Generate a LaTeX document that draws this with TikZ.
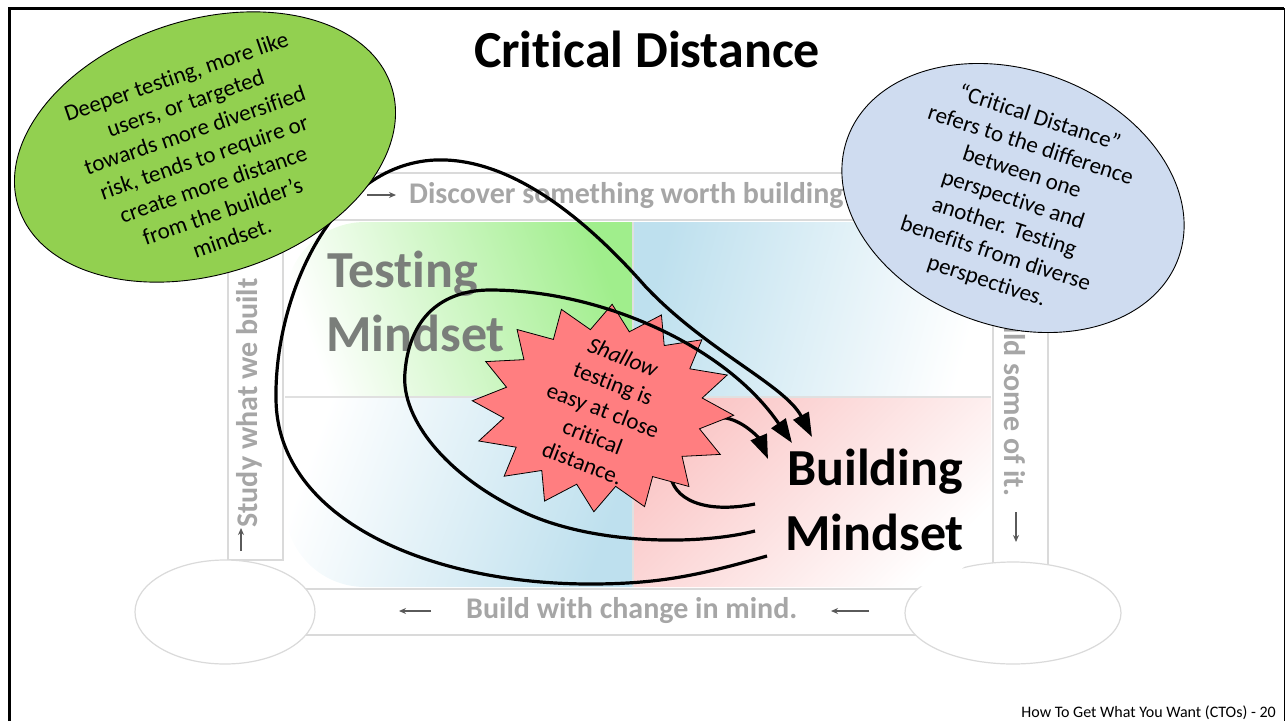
\documentclass[tikz,border=0pt]{standalone}
\usepackage{fontspec}
\setmainfont{Carlito}[Ligatures=NoCommon]
\usetikzlibrary{shapes.geometric,arrows.meta}
\definecolor{ovalgreen}{RGB}{146,208,80}
\definecolor{ovalblue}{RGB}{207,220,240}
\definecolor{burst}{RGB}{255,126,128}
\definecolor{bandline}{RGB}{218,218,218}
\definecolor{bandtext}{RGB}{166,166,166}
\definecolor{bandarrow}{RGB}{90,90,90}
\definecolor{qgreen}{RGB}{160,238,140}
\definecolor{qblue}{RGB}{190,224,238}
\definecolor{qpink}{RGB}{250,198,198}
\definecolor{mindgray}{RGB}{122,126,122}
\begin{document}
\begin{tikzpicture}[x=1pt,y=-1pt,
  band/.style={draw=bandline, fill=white, line width=1.5pt},
  bandlabel/.style={text=bandtext, font=\fontsize{30}{36}\selectfont\bfseries, inner sep=0pt},
  bandarr/.style={draw=bandarrow, line width=1.3pt, -{Stealth[length=7pt,width=6pt]}},
  cornerdisk/.style={draw=bandline, fill=white, line width=1.2pt},
  curvy/.style={draw=black, line width=3.2pt},
  curvyarrow/.style={curvy, -{Triangle[length=24pt,width=17pt]}},
  mindset/.style={font=\fontsize{52}{62}\selectfont\bfseries, inner sep=0pt, anchor=base west},
  oval/.style={ellipse, draw=black, line width=0.9pt, inner sep=0pt},
  note/.style={align=center, font=\fontsize{23}{28.5}\selectfont, inner sep=0pt},
]
\useasboundingbox (0,0) rectangle (1286,721);

% slide frame
\draw[line width=3pt] (9,721) -- (9,8) -- (1284,8);
\draw[line width=1pt] (1284,8) -- (1284,721);

% cycle bands
\draw[band] (283,173) rectangle (1000,220);
\draw[band] (228,200) rectangle (283,560);
\draw[band] (993,200) rectangle (1048,565);
\draw[band] (300,589) rectangle (1000,635);
\node[cornerdisk, ellipse, minimum width=180pt, minimum height=104pt] (diskL) at (225,612) {};
\node[cornerdisk, ellipse, minimum width=216pt, minimum height=102pt] (diskR) at (1013,613) {};

% four mindset quadrants
\begin{scope}
  \clip[rounded corners=80pt] (285,222) rectangle (991,587);
  \shade[left color=white, right color=qgreen, shading angle=110] (285,222) rectangle (633,397);
  \shade[left color=qblue, right color=white, shading angle=75] (633,222) rectangle (991,397);
  \shade[left color=white, right color=qblue, shading angle=70] (285,397) rectangle (633,587);
  \shade[top color=qpink, bottom color=white, shading angle=45] (633,397) rectangle (991,587);
\end{scope}
\draw[white!88!black, line width=1.2pt] (633,222) -- (633,587) (285,397) -- (991,397);

% band labels and their arrows
\node[bandlabel, anchor=west] (discover) at (409,196) {Discover something worth building};
\node[bandlabel, anchor=west] (buildwith) at (466,611) {Build with change in mind.};
\node[bandlabel, anchor=west, rotate=90] (study) at (249,528) {Study what we built};
\node[bandlabel, anchor=west, rotate=-90] (buildsome) at (1015,293) {Build some of it.};
\coordinate (a1s) at (367,195); \coordinate (a1e) at (396,195);
\coordinate (a2s) at (431,611); \coordinate (a2e) at (399,611);
\coordinate (a3s) at (869,611); \coordinate (a3e) at (831,611);
\coordinate (a4s) at (241,551); \coordinate (a4e) at (241,528);
\coordinate (a5s) at (1016,512); \coordinate (a5e) at (1016,542);
\draw[bandarr] (a1s) -- (a1e);
\draw[bandarr] (a2s) -- (a2e);
\draw[bandarr] (a3s) -- (a3e);
\draw[bandarr] (a4s) -- (a4e);
\draw[bandarr] (a5s) -- (a5e);

% testing mindset label
\node[mindset, text=mindgray] (testing) at (327,287) {Testing};
\node[mindset, text=mindgray] (testmind) at (326,351) {Mindset};

% short loop, passing under the burst
\coordinate (inS) at (755,504);
\coordinate (inE) at (768,459);
\draw[curvyarrow] (inS) .. controls (705,514) and (672,500) .. (670,472)
  .. controls (662,432) and (695,416) .. (726,418)
  .. controls (746,422) and (760,440) .. (inE);

% burst
\begin{scope}[shift={(603,408)}]
  \draw[fill=burst, draw=black, line width=0.8pt] (-4:131pt and 104pt)
    \foreach \a in {0,22.5,...,337.5} { -- ({\a+7.25}:100pt and 79pt) -- ({\a+18.5}:131pt and 104pt) } -- cycle;
\end{scope}
\node[note, rotate=-21] (shallow) at (603,410) {\textit{Shallow}\\testing is\\easy at close\\critical\\distance.};

% middle loop
\coordinate (midS) at (755,531);
\coordinate (midE) at (792,443);
\draw[curvyarrow] (midS) .. controls (700,545) and (600,545) .. (530,515)
  .. controls (450,480) and (400,420) .. (405,372)
  .. controls (410,310) and (450,290) .. (490,290)
  .. controls (600,290) and (725,345) .. (midE);

% outer loop
\coordinate (outS) at (767,556);
\coordinate (outE) at (812,437);
\draw[curvyarrow] (outS) .. controls (700,575) and (660,584) .. (590,584)
  .. controls (430,584) and (278,520) .. (276,400)
  .. controls (274,300) and (330,165) .. (435,160)
  .. controls (510,157) and (585,218) .. (645,286)
  .. controls (705,350) and (785,385) .. (outE);

% building mindset label
\node[mindset] (building) at (787,485) {Building};
\node[mindset] (buildmind) at (785,550) {Mindset};

% call-out ovals
\node[oval, fill=ovalgreen, minimum width=392pt, minimum height=254pt, rotate=18] (greenoval) at (205,147) {};
\node[note, rotate=19] (deeper) at (204,157) {Deeper testing, more like\\users, or targeted\\towards more diversified\\risk, tends to require or\\create more distance\\from the builder’s\\mindset.};
\node[oval, fill=ovalblue, minimum width=352pt, minimum height=256pt, rotate=-20] (blueoval) at (1013,198) {};
\node[note, rotate=-18] (critical) at (1013,200) {“Critical Distance”\\refers to the difference\\between one\\perspective and\\another. Testing\\benefits from diverse\\perspectives.};

% title and footer
\node[font=\fontsize{52}{62}\selectfont\bfseries, inner sep=0pt, anchor=base] (title) at (647,67) {Critical Distance};
\node[font=\fontsize{16}{19}\selectfont, inner sep=0pt, anchor=base east] (footer) at (1276,717) {How To Get What You Want (CTOs) - 20};
\end{tikzpicture}
\end{document}
